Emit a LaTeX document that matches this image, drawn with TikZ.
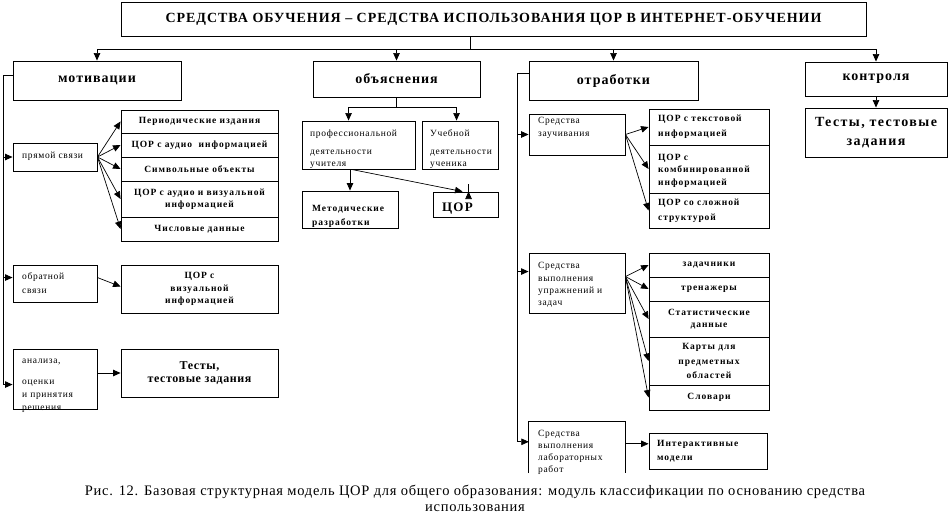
\documentclass[tikz,border=0pt]{standalone}
\usepackage{fontspec}
\setmainfont{Liberation Serif}
\newfontfamily\lsFive[LetterSpace=5]{Liberation Serif}
\newfontfamily\lsSeven[LetterSpace=7]{Liberation Serif}
\newfontfamily\lsTen[LetterSpace=10]{Liberation Serif}
\usetikzlibrary{arrows.meta,calc}
\tikzset{
  box/.style={draw, line width=0.9pt, inner sep=0pt, align=center},
  ln/.style={line width=0.7pt},
  arr/.style={ln, -{Triangle[length=7.5pt,width=6.5pt]}},
  ttl/.style={font=\lsSeven\bfseries\fontsize{14}{16}\selectfont},
  hd/.style={font=\lsSeven\bfseries\fontsize{14}{16}\selectfont},
  sm/.style={font=\lsSeven\fontsize{9.5}{12}\selectfont, align=left, anchor=north west, inner sep=0pt},
  smb/.style={font=\lsTen\bfseries\fontsize{9.5}{12.5}\selectfont},
  smbl/.style={font=\lsTen\bfseries\fontsize{9.5}{12.5}\selectfont, align=left, anchor=north west, inner sep=0pt},
  big/.style={font=\lsFive\bfseries\fontsize{12}{13}\selectfont},
  bigk/.style={font=\lsTen\bfseries\fontsize{14}{19}\selectfont},
  captxt/.style={font=\lsFive\fontsize{14.5}{16.5}\selectfont, align=center, inner sep=0pt},
}
\newcommand\bx[7]{\node[box,#6,minimum width={(#4-#2)*1pt},minimum height={(#5-#3)*1pt}] (#1) at ({(#2+#4)/2},{(#3+#5)/2}) {#7};}
\begin{document}
\begin{tikzpicture}[x=1pt,y=-1pt]
\fill[white] (0,0) rectangle (950,532);
\useasboundingbox (0,0) rectangle (950,532);

% title and sections
\bx{title}{121}{2}{866}{36}{ttl}{СРЕДСТВА ОБУЧЕНИЯ – СРЕДСТВА ИСПОЛЬЗОВАНИЯ ЦОР В ИНТЕРНЕТ-ОБУЧЕНИИ}
\bx{motiv}{13}{61}{181}{100}{hd}{мотивации}
\bx{obj}{313}{61}{480}{97}{hd}{объяснения}
\bx{otr}{529}{61}{698}{100}{hd}{отработки}
\bx{kontr}{805}{62}{947}{96}{hd}{контроля}
\bx{kt}{805}{108}{947}{157}{bigk}{Тесты, тестовые\\задания}

\coordinate (hub) at (470,49);
\draw[ln] (title.south -| hub) -- (hub);
\draw[arr] (hub) -| (motiv.north);
\draw[arr] (hub) -| (obj.north);
\draw[arr] (hub) -| (otr.north);
\draw[arr] (hub) -| (kontr.north);
\draw[arr] (kontr.south) -- (kt.north);

% motivation column
\bx{prm}{13}{143}{97}{171}{}{}
\bx{obr}{13}{265}{97}{302}{}{}
\bx{anal}{13}{349}{97}{409}{}{}
\node[sm] (tprm) at (22,152) {прямой связи};
\node[sm, font=\lsSeven\fontsize{9.5}{14}\selectfont] (tobr) at (22,272) {обратной\\связи};
\node[sm, font=\lsSeven\fontsize{9.5}{13}\selectfont] (tanal) at (22,358.5) {анализа,\\[8pt]оценки\\и принятия\\решения};

\bx{p1}{121}{110}{278}{133}{smb}{Периодические издания}
\bx{p2}{121}{133}{278}{157}{smb}{ЦОР с аудио~~информацией}
\bx{p3}{121}{157}{278}{181}{smb}{Символьные объекты}
\bx{p4}{121}{181}{278}{217}{smb}{ЦОР с аудио и визуальной\\информацией}
\bx{p5}{121}{217}{278}{241}{smb}{Числовые данные}
\bx{viz}{121}{265}{278}{313}{smb}{ЦОР с\\визуальной\\информацией}
\bx{tst}{121}{349}{278}{397}{big}{Тесты,\\тестовые задания}

\coordinate (lsp) at (3,75);
\draw[ln] ($(motiv.west)+(0,-5.5)$) -- (lsp) -- (lsp |- {$(anal.north west)+(0,36)$});
\draw[arr] (lsp |- prm.west) -- (prm.west);
\draw[arr] (lsp |- {$(obr.north west)+(0,13)$}) -- ($(obr.north west)+(0,13)$);
\draw[arr] (lsp |- {$(anal.north west)+(0,36)$}) -- ($(anal.north west)+(0,36)$);
\foreach \t in {p1,p2,p3,p4,p5} \draw[arr] (prm.east) -- (\t.west);
\draw[arr] ($(obr.north east)+(0,13)$) -- ($(viz.north west)+(0,22)$);
\draw[arr] (tst.west -| anal.east) -- (tst.west);

% explanation column
\bx{prof}{302}{121}{415}{169}{}{}
\bx{ucheb}{422}{121}{498}{169}{}{}
\bx{metod}{302}{191}{398}{228}{}{}
\bx{cor}{433}{192}{498}{217}{}{}
\node[sm] (tprof) at (310,129.5) {профессиональной\\[6pt]деятельности\\учителя};
\node[sm] (tucheb) at (430,129.5) {Учебной\\[6pt]деятельности\\ученика};
\node[smbl, font=\lsTen\bfseries\fontsize{9.5}{14}\selectfont] (tmetod) at (312,205) {Методические\\разработки};
\node[font=\lsTen\bfseries\fontsize{13}{15}\selectfont, anchor=base west, inner sep=0pt] (tcor) at (442,211.5) {ЦОР};

\coordinate (oj) at ($(obj.south)+(0,10)$);
\draw[ln] (obj.south) -- (oj);
\draw[arr] (oj) -| ($(prof.north west)+(47,0)$);
\draw[arr] (oj) -| ($(ucheb.north west)+(35,0)$);
\draw[arr] (metod.north |- prof.south) -- (metod.north);
\draw[arr] ($(cor.north west)+(36,0)$ |- ucheb.south) -- ($(cor.north west)+(36,0)$);
\draw[arr] ($(prof.south west)+(50,0)$) -- ($(cor.north west)+(30,0)$);

% practice column
\bx{zauch}{529}{114}{625}{155}{}{}
\bx{z1}{649}{109}{769}{145}{}{}
\bx{z2}{649}{145}{769}{193}{}{}
\bx{z3}{649}{193}{769}{228}{}{}
\node[sm, font=\lsSeven\fontsize{9.5}{13}\selectfont] (tzauch) at (538,117.5) {Средства\\заучивания};
\node[smbl, font=\lsTen\bfseries\fontsize{9.5}{15}\selectfont] (tz1) at (658,115) {ЦОР с текстовой\\информацией};
\node[smbl] (tz2) at (658,154) {ЦОР с\\комбинированной\\информацией};
\node[smbl, font=\lsTen\bfseries\fontsize{9.5}{15}\selectfont] (tz3) at (658,199) {ЦОР со сложной\\структурой};

\bx{upr}{529}{253}{625}{313}{}{}
\node[sm, font=\lsSeven\fontsize{9.5}{12.3}\selectfont] (tupr) at (538,262.5) {Средства\\выполнения\\упражнений и\\задач};
\bx{u1}{649}{253}{769}{277}{smb}{задачники}
\bx{u2}{649}{277}{769}{301}{smb}{тренажеры}
\bx{u3}{649}{301}{769}{337}{smb}{Статистические\\данные}
\bx{u4}{649}{337}{769}{385}{smb, font=\lsTen\bfseries\fontsize{9.5}{14.5}\selectfont}{Карты для\\предметных\\областей}
\bx{u5}{649}{385}{769}{410}{smb}{Словари}

\node[inner sep=0pt, minimum width=96pt, minimum height=51pt] (lab) at (577,447.5) {};
\draw[line width=0.9pt] (lab.south west) -- (lab.north west) -- (lab.north east) -- (lab.south east);
\node[sm, font=\lsSeven\fontsize{9.5}{11.7}\selectfont] (tlab) at (538,430.5) {Средства\\выполнения\\лабораторных\\работ};
\bx{int}{649}{433}{767}{469}{}{}
\node[smbl, font=\lsTen\bfseries\fontsize{9.5}{14}\selectfont] (tint) at (657,440) {Интерактивные\\модели};

\coordinate (rsp) at (517,73);
\draw[ln] (otr.west |- rsp) -- (rsp) -- (rsp |- {$(lab.north west)+(0,20)$});
\draw[arr] (rsp |- zauch.west) -- (zauch.west);
\draw[arr] (rsp |- {$(upr.north west)+(0,19)$}) -- ($(upr.north west)+(0,19)$);
\draw[arr] (rsp |- {$(lab.north west)+(0,20)$}) -- ($(lab.north west)+(0,20)$);
\foreach \t in {z1,z2,z3} \draw[arr] (zauch.east) -- (\t.west);
\foreach \t in {u1,u2,u3,u4,u5} \draw[arr] ($(upr.north east)+(0,24)$) -- (\t.west);
\draw[arr] ($(lab.north east)+(0,22)$) -- (int.west |- {$(lab.north east)+(0,22)$});

% caption
\node[captxt] (caption) at (475,498.5) {Рис. 12. Базовая структурная модель ЦОР для общего образования: модуль классификации по основанию средства\\использования};
\end{tikzpicture}
\end{document}
